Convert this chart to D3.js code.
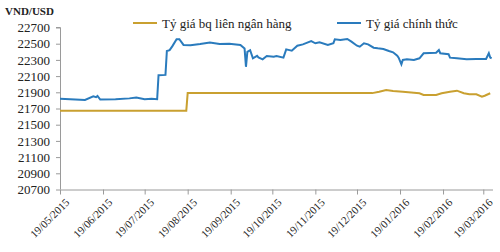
<!DOCTYPE html>
<html><head><meta charset="utf-8">
<script src="https://cdn.jsdelivr.net/npm/d3@7/dist/d3.min.js"></script>
<style>body{margin:0;background:#fff}svg{display:block}</style>
</head><body><div id="chart"></div>
<script>
const yTicks=[20700,20900,21100,21300,21500,21700,21900,22100,22300,22500,22700];
const xTickLabels=["19/05/2015","19/06/2015","19/07/2015","19/08/2015","19/09/2015","19/10/2015","19/11/2015","19/12/2015","19/01/2016","19/02/2016","19/03/2016"];
const seriesNames=["Tỷ giá bq liên ngân hàng","Tỷ giá chính thức"];
const officialDates=["2015-05-19","2015-05-30","2015-06-06","2015-06-12","2015-06-14","2015-06-15","2015-06-17","2015-06-28","2015-07-08","2015-07-13","2015-07-19","2015-07-24","2015-07-28","2015-07-29","2015-08-03","2015-08-04","2015-08-06","2015-08-08","2015-08-11","2015-08-13","2015-08-16","2015-08-21","2015-08-28","2015-09-04","2015-09-11","2015-09-18","2015-09-26","2015-09-29","2015-09-30","2015-10-01","2015-10-03","2015-10-05","2015-10-08","2015-10-09","2015-10-12","2015-10-15","2015-10-20","2015-10-22","2015-10-27","2015-10-29","2015-11-02","2015-11-06","2015-11-10","2015-11-16","2015-11-19","2015-11-22","2015-11-28","2015-12-02","2015-12-03","2015-12-07","2015-12-12","2015-12-15","2015-12-19","2015-12-21","2015-12-24","2015-12-27","2015-12-31","2016-01-03","2016-01-07","2016-01-11","2016-01-14","2016-01-17","2016-01-18","2016-01-20","2016-01-21","2016-01-24","2016-01-29","2016-02-02","2016-02-05","2016-02-14","2016-02-16","2016-02-17","2016-02-23","2016-02-24","2016-02-29","2016-03-07","2016-03-14","2016-03-21","2016-03-23","2016-03-24","2016-03-25"];
const officialValues=[21820,21810,21805,21850,21840,21855,21810,21815,21825,21835,21815,21820,21815,22110,22115,22410,22420,22470,22555,22555,22485,22480,22495,22515,22495,22500,22485,22440,22215,22400,22420,22320,22350,22330,22307,22348,22340,22348,22328,22430,22414,22475,22492,22533,22505,22517,22484,22505,22554,22546,22558,22525,22475,22463,22505,22492,22451,22443,22435,22410,22394,22352,22328,22246,22299,22307,22299,22320,22382,22389,22422,22382,22370,22328,22320,22307,22311,22311,22382,22330,22320];
const interbankDates=["2015-05-19","2015-08-18","2015-08-19","2015-12-30","2016-01-04","2016-01-09","2016-01-14","2016-01-21","2016-01-29","2016-02-02","2016-02-05","2016-02-14","2016-02-18","2016-02-24","2016-02-29","2016-03-05","2016-03-09","2016-03-14","2016-03-18","2016-03-20","2016-03-24"];
const interbankValues=[21673,21673,21890,21890,21908,21928,21916,21908,21895,21888,21867,21867,21888,21908,21920,21888,21875,21875,21846,21858,21888];

const W=500,H=252;
const parse=d3.timeParse("%Y-%m-%d");
const parseL=d3.timeParse("%d/%m/%Y");
const svg=d3.select("#chart").append("svg").attr("width",W).attr("height",H);
const x=d3.scaleTime().domain([parse("2015-05-19"),parse("2016-03-26")]).range([60,493]);
const y=d3.scaleLinear().domain([20700,22700]).range([189.5,27.5]);
const font="'Liberation Serif','Times New Roman',serif";
const axisCol="#9a9a9a";

const ya=svg.append("g").attr("transform","translate(60,0)")
  .call(d3.axisLeft(y).tickValues(yTicks).tickSize(4).tickPadding(6).tickFormat(d3.format("d")));
const xa=svg.append("g").attr("transform","translate(0,189.5)")
  .call(d3.axisBottom(x).tickValues(xTickLabels.map(parseL)).tickSize(5).tickFormat((d,i)=>xTickLabels[i]));
[ya,xa].forEach(g=>{g.selectAll("path,line").attr("stroke",axisCol);g.select(".domain").attr("stroke",axisCol);
  g.selectAll("text").attr("fill","#222").style("font-family",font);});
ya.selectAll("text").style("font-size","13px");
xa.select(".domain").attr("d","M60.5,0.5H493");
ya.select(".domain").attr("d","M-4,27.5H0.5V189.5");
xa.selectAll("text").style("font-size","11px").attr("text-anchor","end")
  .attr("transform","translate(5,9) rotate(-45)").attr("dy","0.6em").attr("y",0).attr("x",0);

const line=d3.line().x(d=>x(d[0])).y(d=>y(d[1]));
const gold="#c9a030", blue="#2a7bbd";
svg.append("path").datum(interbankDates.map((d,i)=>[parse(d),interbankValues[i]]))
  .attr("d",line).attr("fill","none").attr("stroke",gold).attr("stroke-width",2);
svg.append("path").datum(officialDates.map((d,i)=>[parse(d),officialValues[i]]))
  .attr("d",line).attr("fill","none").attr("stroke",blue).attr("stroke-width",2);

svg.append("text").attr("x",5).attr("y",15).text("VND/USD")
  .style("font-family",font).style("font-weight","bold").style("font-size","11px").attr("fill","#222");

const leg=[{x:133,c:gold,t:seriesNames[0]},{x:337,c:blue,t:seriesNames[1]}];
leg.forEach(l=>{
  svg.append("line").attr("x1",l.x).attr("x2",l.x+24).attr("y1",23).attr("y2",23).attr("stroke",l.c).attr("stroke-width",2);
  svg.append("text").attr("x",l.x+29).attr("y",27.5).text(l.t).style("font-family",font).style("font-size","13px").attr("fill","#222");
});
</script></body></html>
